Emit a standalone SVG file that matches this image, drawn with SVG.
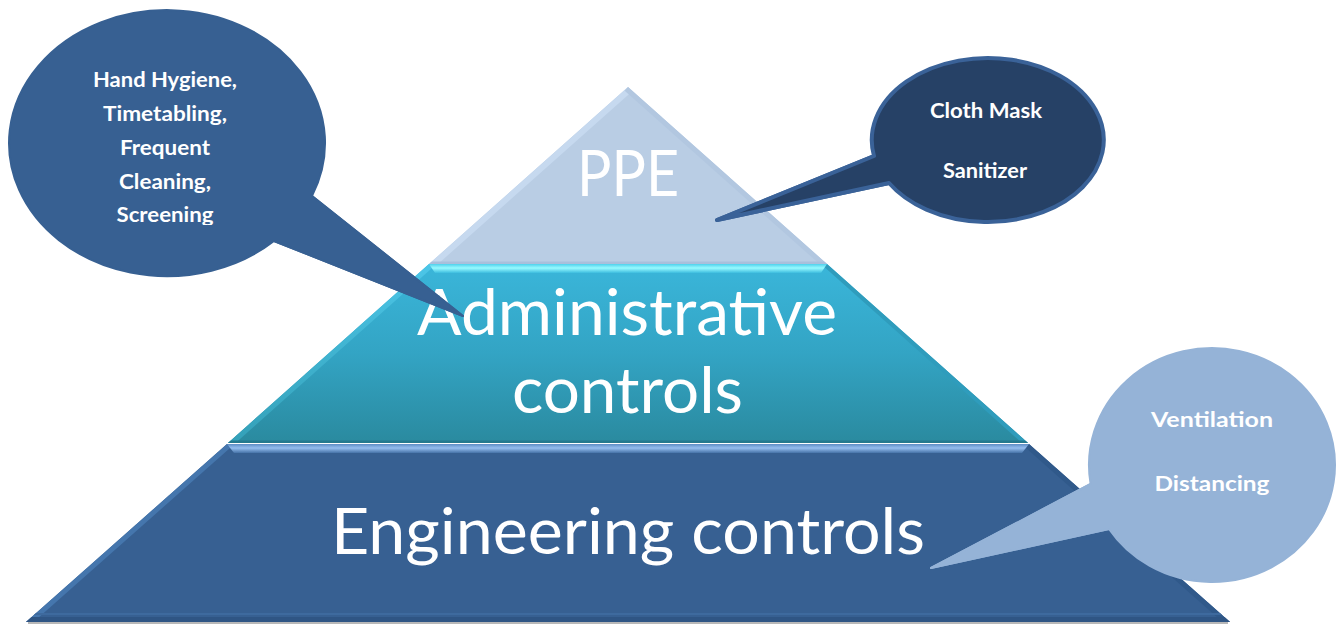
<svg xmlns="http://www.w3.org/2000/svg" width="1341" height="625" viewBox="0 0 1341 625">
  <defs>
    <linearGradient id="adminFill" x1="0" y1="0" x2="0" y2="1">
      <stop offset="0" stop-color="#3ab6da"/>
      <stop offset="0.5" stop-color="#33a4c4"/>
      <stop offset="1" stop-color="#2a8a9f"/>
    </linearGradient>
    <linearGradient id="adminRim" x1="0" y1="0" x2="0" y2="1">
      <stop offset="0" stop-color="#4fd0ec"/>
      <stop offset="0.45" stop-color="#98faff"/>
      <stop offset="1" stop-color="#3cbddf"/>
    </linearGradient>
    <linearGradient id="adminEdge" x1="0" y1="0" x2="0" y2="1">
      <stop offset="0" stop-color="#4cc6e8"/>
      <stop offset="1" stop-color="#34a0b8"/>
    </linearGradient>
    <linearGradient id="engRim" x1="0" y1="0" x2="0" y2="1">
      <stop offset="0" stop-color="#5d8cc4"/>
      <stop offset="0.45" stop-color="#94bdef"/>
      <stop offset="1" stop-color="#4673a8"/>
    </linearGradient>
    <clipPath id="clipPpe"><polygon points="628,87 429,264 827,264"/></clipPath>
    <clipPath id="clipAdmin"><polygon points="429,264 827,264 1028,443 228,443"/></clipPath>
    <clipPath id="clipEng"><polygon points="227,444 1029,444 1230,622 26,622"/></clipPath>
    <clipPath id="clipHands"><rect x="0" y="0" width="340" height="225"/></clipPath>
    <style>
      .tier { font-family: Lato, "Open Sans", "Liberation Sans", sans-serif; font-size: 64px; fill: #ffffff; text-anchor: middle; }
      .note { font-family: Lato, "Open Sans", "Liberation Sans", sans-serif; font-weight: bold; font-size: 20.5px; fill: #ffffff; text-anchor: middle; }
    </style>
  </defs>

  <rect width="1341" height="625" fill="#ffffff"/>

  <!-- soft ground shadow under the base -->
  <rect x="28" y="621" width="1200" height="3" fill="#9a9a9a" opacity="0.7"/>

  <!-- bottom tier -->
  <g id="tier-engineering">
    <polygon points="227,444 1029,444 1230,622 26,622" fill="#376092"/>
    <g clip-path="url(#clipEng)">
      <polyline points="227,444 26,622" fill="none" stroke="#4576ad" stroke-width="10"/>
      <polyline points="1029,444 1230,622" fill="none" stroke="#30598a" stroke-width="10"/>
      <line x1="26" y1="620" x2="1230" y2="620" stroke="#2f5584" stroke-width="6"/>
      <line x1="30" y1="614" x2="1226" y2="614" stroke="#3e6a9e" stroke-width="2"/>
      <polygon points="227,444 1029,444 1022,453 234,453" fill="url(#engRim)"/>
    </g>
    <text class="tier" x="628" y="554" textLength="594" lengthAdjust="spacingAndGlyphs">Engineering controls</text>
  </g>

  <!-- middle tier -->
  <g id="tier-administrative">
    <polygon points="429,264 827,264 1028,443 228,443" fill="url(#adminFill)"/>
    <g clip-path="url(#clipAdmin)">
      <polyline points="429,264 228,443" fill="none" stroke="url(#adminEdge)" stroke-width="10"/>
      <polyline points="827,264 1028,443" fill="none" stroke="#2f9cbc" stroke-width="8"/>
      <line x1="228" y1="442" x2="1028" y2="442" stroke="#24798e" stroke-width="3"/>
      <polygon points="429,264 827,264 821,273 435,273" fill="url(#adminRim)"/>
    </g>
    <text class="tier" x="627" y="335" textLength="420" lengthAdjust="spacingAndGlyphs">Administrative</text>
    <text class="tier" x="627.5" y="413" textLength="231" lengthAdjust="spacingAndGlyphs">controls</text>
  </g>

  <!-- top tier -->
  <g id="tier-ppe">
    <polygon points="628,87 429,264 827,264" fill="#b9cde4"/>
    <g clip-path="url(#clipPpe)">
      <polyline points="628,87 429,264" fill="none" stroke="#c6d9ef" stroke-width="12"/>
      <polyline points="628,87 827,264" fill="none" stroke="#b2c7e0" stroke-width="10"/>
      <line x1="429" y1="263" x2="827" y2="263" stroke="#a9bfdb" stroke-width="3"/>
    </g>
    <text class="tier" x="628" y="196" textLength="102" lengthAdjust="spacingAndGlyphs">PPE</text>
  </g>

  <!-- pointers from the callouts into the tiers -->
  <g id="connectors">
    <path id="pointer-hands" d="M312,196 L463,316 L274,241 Z" fill="#376092" stroke="#376092" stroke-width="2" stroke-linejoin="round"/>
    <path id="pointer-mask" d="M874,156 L717,220 L889,183 Z" fill="#264166" stroke="#3a6298" stroke-width="4" stroke-linejoin="round"/>
    <path id="pointer-vent" d="M1090.6,484 L931,568 L1109,529 Z" fill="#95b3d7" stroke="#95b3d7" stroke-width="2" stroke-linejoin="round"/>
  </g>

  <!-- callout: administrative measures -->
  <g id="callout-hands">
    <path d="M312,196 L463,316 L274,241 A158 133 0 1 1 312,196 Z" fill="#376092" stroke="#376092" stroke-width="2" stroke-linejoin="round"/>
    <g clip-path="url(#clipHands)">
      <text class="note" x="165" y="87" textLength="144" lengthAdjust="spacingAndGlyphs">Hand Hygiene,</text>
      <text class="note" x="165" y="121" textLength="124" lengthAdjust="spacingAndGlyphs">Timetabling,</text>
      <text class="note" x="165" y="155" textLength="90" lengthAdjust="spacingAndGlyphs">Frequent</text>
      <text class="note" x="165" y="189" textLength="92" lengthAdjust="spacingAndGlyphs">Cleaning,</text>
      <text class="note" x="165" y="222" textLength="97" lengthAdjust="spacingAndGlyphs">Screening</text>
    </g>
  </g>

  <!-- callout: personal protective equipment -->
  <g id="callout-mask">
    <path d="M874,156 L717,220 L889,183 A116 82 0 1 0 874,156 Z" fill="#264166" stroke="#3a6298" stroke-width="4" stroke-linejoin="round"/>
    <text class="note" x="986" y="118" textLength="112" lengthAdjust="spacingAndGlyphs">Cloth Mask</text>
    <text class="note" x="985" y="178" textLength="84" lengthAdjust="spacingAndGlyphs">Sanitizer</text>
  </g>

  <!-- callout: engineering measures -->
  <g id="callout-vent">
    <path d="M1090.6,484 L931,568 L1109,529 A123 117 0 1 0 1090.6,484 Z" fill="#95b3d7" stroke="#95b3d7" stroke-width="2" stroke-linejoin="round"/>
    <text class="note" x="1212" y="427" textLength="122" lengthAdjust="spacingAndGlyphs">Ventilation</text>
    <text class="note" x="1212" y="491" textLength="115" lengthAdjust="spacingAndGlyphs">Distancing</text>
  </g>
</svg>
